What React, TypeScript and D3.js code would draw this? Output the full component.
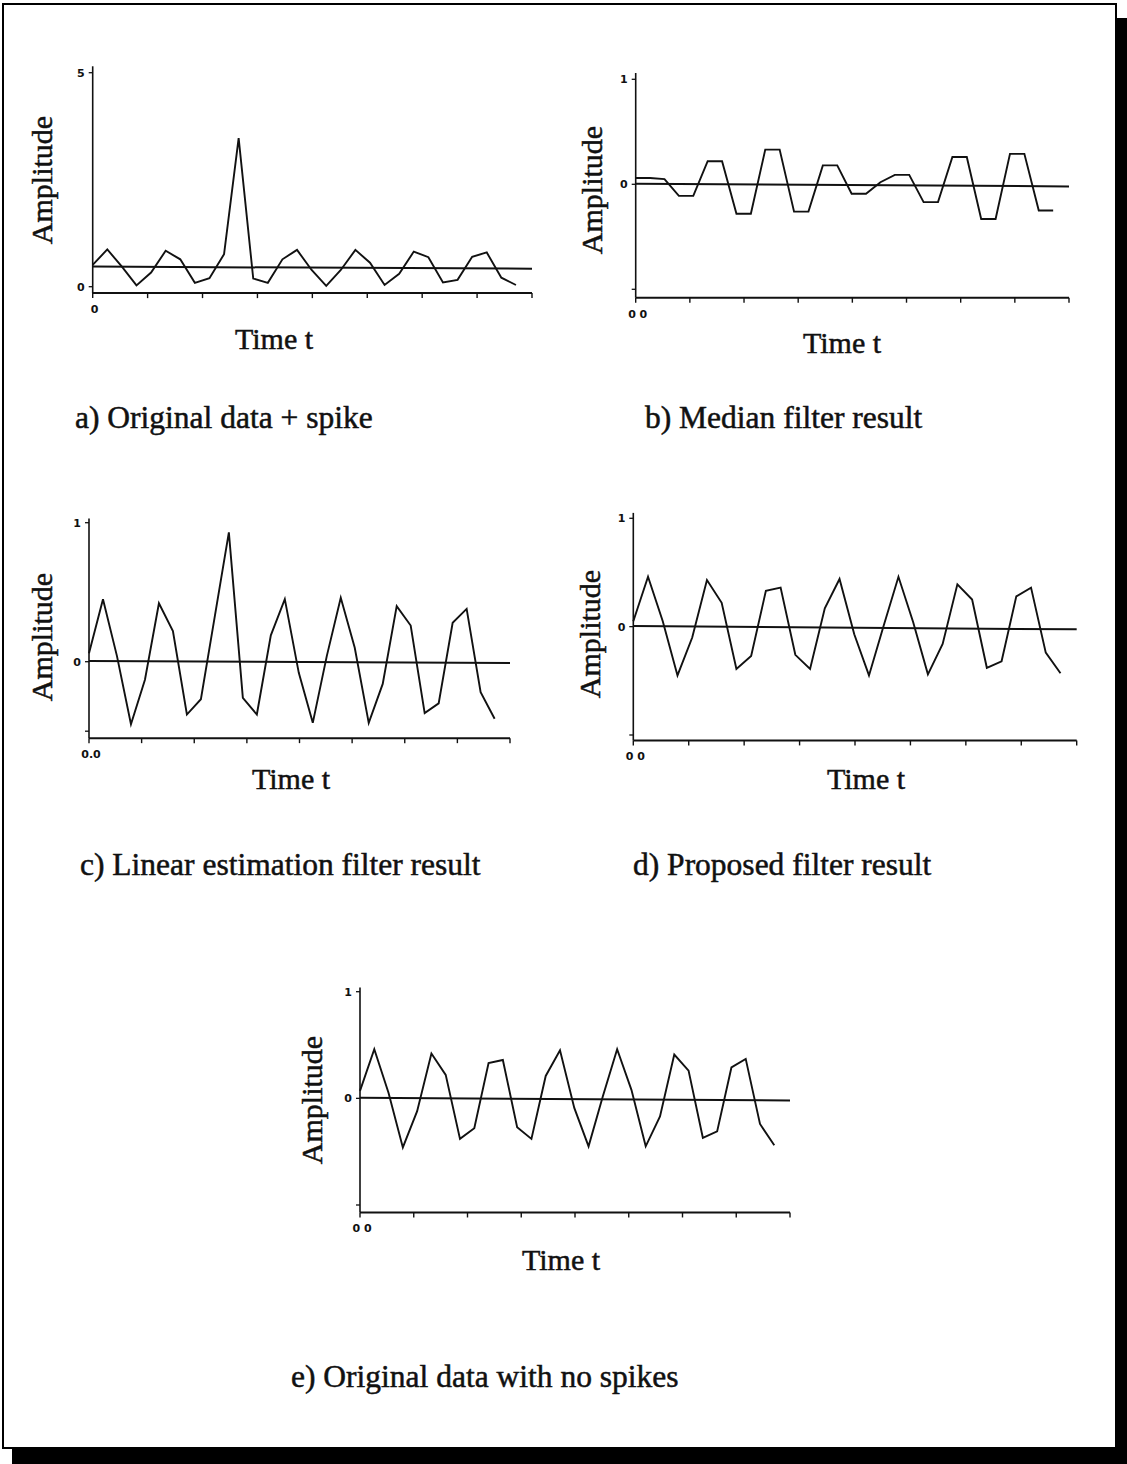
import React from "react";
import * as d3 from "d3";

// ---- data ----
const seriesA = [0.51, 0.87, 0.47, 0.03, 0.33, 0.84, 0.64, 0.09, 0.2, 0.76, 3.47, 0.19, 0.09, 0.64, 0.86, 0.39, 0.02, 0.39, 0.86, 0.56, 0.04, 0.3, 0.82, 0.69, 0.1, 0.16, 0.7, 0.8, 0.21, 0.04];
const seriesB = [0.06, 0.06, 0.05, -0.11, -0.11, 0.22, 0.22, -0.28, -0.28, 0.33, 0.33, -0.26, -0.26, 0.18, 0.18, -0.09, -0.09, 0.02, 0.09, 0.09, -0.17, -0.17, 0.26, 0.26, -0.33, -0.33, 0.29, 0.29, -0.25, -0.25];
const seriesC = [0.06, 0.45, 0.04, -0.45, -0.13, 0.42, 0.22, -0.38, -0.27, 0.33, 0.93, -0.26, -0.38, 0.19, 0.45, -0.08, -0.44, 0.04, 0.46, 0.1, -0.44, -0.16, 0.4, 0.26, -0.37, -0.3, 0.28, 0.38, -0.22, -0.41];
const seriesD = [0.05, 0.46, 0.05, -0.45, -0.1, 0.43, 0.22, -0.39, -0.27, 0.33, 0.36, -0.26, -0.39, 0.17, 0.44, -0.07, -0.45, 0.01, 0.46, 0.04, -0.44, -0.16, 0.39, 0.25, -0.38, -0.32, 0.28, 0.36, -0.24, -0.43];
const seriesE = [0.07, 0.46, 0.05, -0.46, -0.12, 0.42, 0.22, -0.38, -0.28, 0.33, 0.36, -0.27, -0.38, 0.21, 0.45, -0.09, -0.45, 0.02, 0.46, 0.08, -0.45, -0.17, 0.41, 0.26, -0.37, -0.31, 0.29, 0.37, -0.24, -0.44];

// horizontal reference (mean) line: value at start, value at end
const refA = [0.47, 0.42];
const refB = [0.006, -0.02];
const refC = [0.005, -0.01];
const refD = [0.005, -0.025];
const refE = [0.006, -0.02];

const yTicksA = [5, 0];
const yTickLabelsA = ["5", "0"];
const yTicksSym = [1, 0, -1];
const yTickLabelsSym = ["1", "0", ""];
const yTicksC = [1, 0, -0.5];
const yTickLabelsC = ["1", "0", ""];

const xStartLabels = ["0", "0 0", "0.0", "0 0", "0 0"];
const captions = [
  "a) Original data + spike",
  "b) Median filter result",
  "c) Linear estimation filter result",
  "d) Proposed filter result",
  "e) Original data with no spikes",
];
const xTitle = "Time t";
const yTitle = "Amplitude";

const X_MAX = 30.1;
const N_XTICKS = 8;

// ---- layout ----
type PanelCfg = {
  data: number[];
  ref: number[];
  yTicks: number[];
  yLabels: string[];
  xLabel: string;
  caption: string;
  left: number; right: number;
  yVal: [number, number]; yPix: [number, number];
  axisMin: number; axisMax: number;
  ampX: number; ampY: number;
  timeX: number; timeY: number;
  capX: number; capY: number;
};

const panels: PanelCfg[] = [
  { data: seriesA, ref: refA, yTicks: yTicksA, yLabels: yTickLabelsA, xLabel: xStartLabels[0], caption: captions[0],
    left: 92.7, right: 532, yVal: [0, 5], yPix: [286.7, 72.7], axisMin: -0.15, axisMax: 5.15,
    ampX: 42, ampY: 180, timeX: 274, timeY: 349, capX: 75, capY: 428 },
  { data: seriesB, ref: refB, yTicks: yTicksSym, yLabels: yTickLabelsSym, xLabel: xStartLabels[1], caption: captions[1],
    left: 635.7, right: 1069, yVal: [-1, 1], yPix: [289.3, 79.3], axisMin: -1.08, axisMax: 1.06,
    ampX: 592, ampY: 190, timeX: 842, timeY: 353, capX: 645, capY: 428 },
  { data: seriesC, ref: refC, yTicks: yTicksC, yLabels: yTickLabelsC, xLabel: xStartLabels[2], caption: captions[2],
    left: 89, right: 510, yVal: [0, 1], yPix: [661.7, 522.7], axisMin: -0.55, axisMax: 1.03,
    ampX: 42, ampY: 637, timeX: 291, timeY: 789, capX: 80, capY: 875 },
  { data: seriesD, ref: refD, yTicks: yTicksSym, yLabels: yTickLabelsSym, xLabel: xStartLabels[3], caption: captions[3],
    left: 633.3, right: 1076.7, yVal: [-1, 1], yPix: [735, 518.3], axisMin: -1.05, axisMax: 1.05,
    ampX: 590, ampY: 634, timeX: 866, timeY: 789, capX: 633, capY: 875 },
  { data: seriesE, ref: refE, yTicks: yTicksSym, yLabels: yTickLabelsSym, xLabel: xStartLabels[4], caption: captions[4],
    left: 360, right: 790, yVal: [-1, 1], yPix: [1205, 991.7], axisMin: -1.07, axisMax: 1.04,
    ampX: 312, ampY: 1100, timeX: 561, timeY: 1270, capX: 291, capY: 1387 },
];

const INK = "#111";
const SERIF = "'Liberation Serif', 'Times New Roman', serif";
const TICKFONT = "'DejaVu Sans', sans-serif";

function Panel({ p }: { p: PanelCfg }) {
  const x = d3.scaleLinear().domain([0, X_MAX]).range([p.left, p.right]);
  const y = d3.scaleLinear().domain(p.yVal).range(p.yPix);
  const line = d3.line<number>().x((_, i) => x(i)).y((v) => y(v));
  const xTicks = d3.range(N_XTICKS + 1).map((k) => (k * X_MAX) / N_XTICKS);
  const yAxisBottom = y(p.axisMin);
  const yAxisTop = y(p.axisMax);
  const textInk = { fill: INK, stroke: INK, strokeWidth: 0.5 };
  return (
    <g>
      {/* y axis */}
      <line x1={x(0)} x2={x(0)} y1={yAxisTop} y2={yAxisBottom} stroke={INK} strokeWidth={1.6} />
      {p.yTicks.map((t, i) => (
        <g key={"yt" + i}>
          <line x1={x(0) - 4} x2={x(0)} y1={y(t)} y2={y(t)} stroke={INK} strokeWidth={1.3} />
          <text x={x(0) - 8} y={y(t) + 4} textAnchor="end" fontFamily={TICKFONT} fontWeight="bold" fontSize={11} fill={INK}>
            {p.yLabels[i]}
          </text>
        </g>
      ))}
      {/* x axis */}
      <line x1={x(0)} x2={x(X_MAX)} y1={yAxisBottom} y2={yAxisBottom} stroke={INK} strokeWidth={2} />
      {xTicks.map((t, i) => (
        <line key={"xt" + i} x1={x(t)} x2={x(t)} y1={yAxisBottom} y2={yAxisBottom + 5} stroke={INK} strokeWidth={1.4} />
      ))}
      <text x={x(0) + 2} y={yAxisBottom + 20} textAnchor="middle" fontFamily={TICKFONT} fontWeight="bold" fontSize={11} fill={INK}>
        {p.xLabel}
      </text>
      {/* mean line */}
      <line x1={x(0)} x2={x(X_MAX)} y1={y(p.ref[0])} y2={y(p.ref[1])} stroke={INK} strokeWidth={2} />
      {/* data */}
      <path d={line(p.data) || ""} fill="none" stroke={INK} strokeWidth={1.9} strokeLinejoin="miter" />
      {/* titles */}
      <text transform={`translate(${p.ampX + 10},${p.ampY}) rotate(-90)`} textAnchor="middle" fontFamily={SERIF} fontSize={30} {...textInk}>
        {yTitle}
      </text>
      <text x={p.timeX} y={p.timeY} textAnchor="middle" fontFamily={SERIF} fontSize={30} {...textInk}>
        {xTitle}
      </text>
      <text x={p.capX} y={p.capY} fontFamily={SERIF} fontSize={31.5} {...textInk}>
        {p.caption}
      </text>
    </g>
  );
}

export default function App() {
  return (
    <svg width={1127} height={1464} style={{ position: "absolute", left: 0, top: 0, background: "#fff" }}>
      <rect x={0} y={0} width={1127} height={1464} fill="#fff" />
      {/* drop shadow */}
      <rect x={1116} y={18} width={11} height={1446} fill="#000" />
      <rect x={12} y={1448} width={1115} height={16} fill="#000" />
      {/* frame */}
      <rect x={3} y={4} width={1113} height={1444} fill="none" stroke="#000" strokeWidth={2} />
      {panels.map((p, i) => (
        <Panel key={i} p={p} />
      ))}
    </svg>
  );
}
